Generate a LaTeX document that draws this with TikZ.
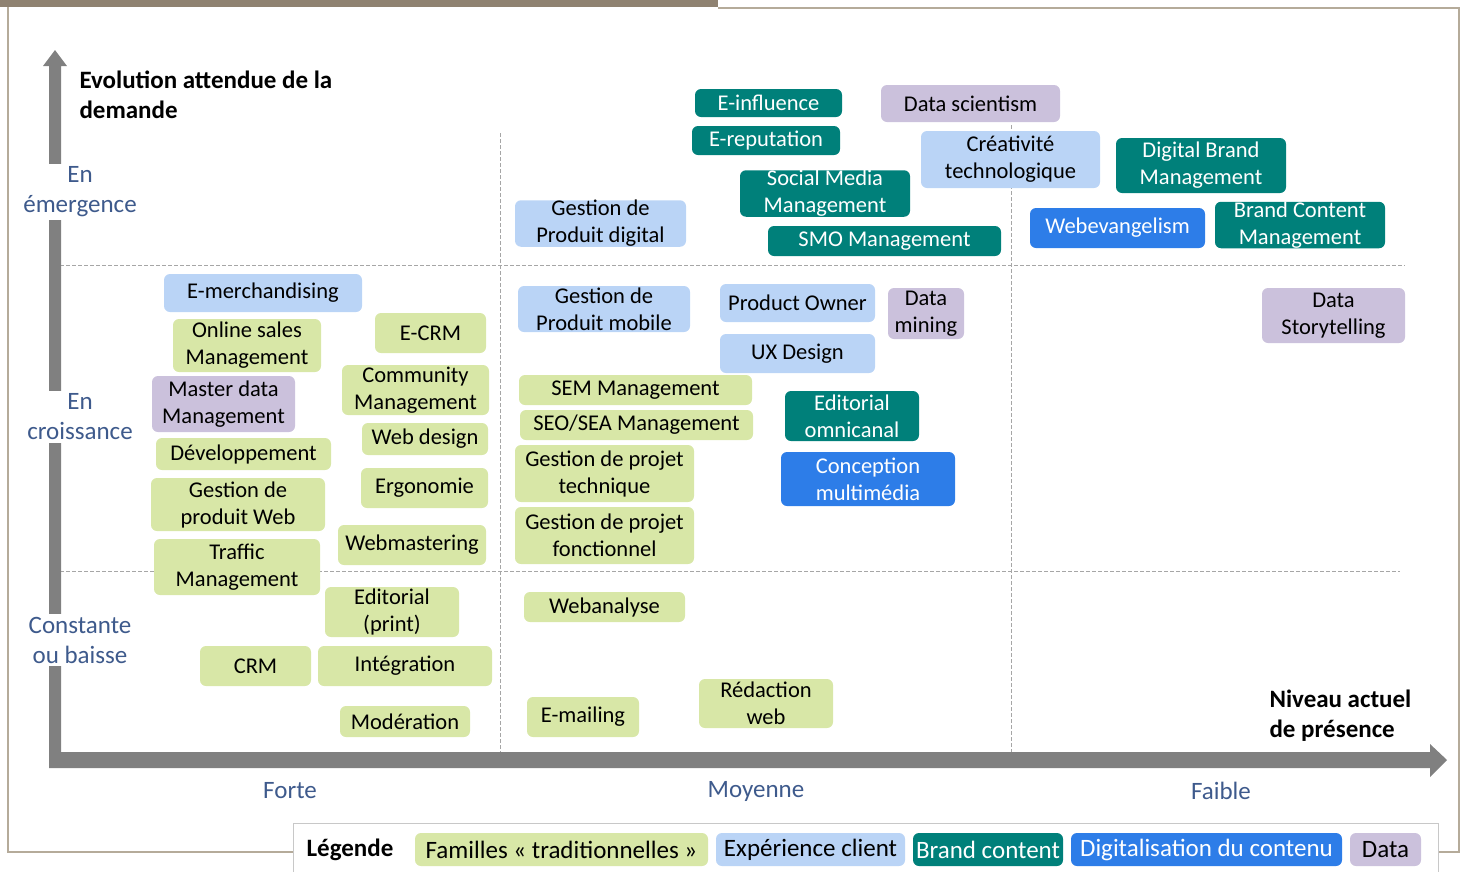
\documentclass[tikz,border=0pt]{standalone}
\usepackage{fontspec}
\setmainfont{Carlito}
\usepackage{tikz}
\definecolor{tradgreen}{HTML}{D8E7A7}
\definecolor{cxblue}{HTML}{BAD4F6}
\definecolor{brandteal}{HTML}{00807A}
\definecolor{digitblue}{HTML}{2D7DE8}
\definecolor{datalav}{HTML}{CBC1DC}
\definecolor{axisgray}{HTML}{808080}
\definecolor{gridgray}{HTML}{A6A6A6}
\definecolor{labelblue}{HTML}{3E5A8C}
\definecolor{framecol}{HTML}{B5AB9A}
\definecolor{bandcol}{HTML}{8F8271}
\definecolor{legendline}{HTML}{C8C8C8}

\begin{document}
\begin{tikzpicture}[x=1pt, y=-1pt,
  skill/.style={rectangle, rounded corners=6pt, inner sep=0pt, align=center, font=\fontsize{22.5}{27}\selectfont},
  famtrad/.style={skill, fill=tradgreen, text=black},
  expclient/.style={skill, fill=cxblue, text=black},
  brandct/.style={skill, fill=brandteal, text=white},
  digcont/.style={skill, fill=digitblue, text=white},
  databox/.style={skill, fill=datalav, text=black},
  sz/.style 2 args={minimum width=#1, minimum height=#2},
  level/.style={fill=white, inner sep=3pt, align=center, text=labelblue, font=\fontsize{25}{30}\selectfont},
  axistitle/.style={align=left, anchor=west, font=\fontsize{25}{30}\selectfont\bfseries},
  grid/.style={gridgray, line width=1pt, dash pattern=on 4pt off 2pt}
]
\useasboundingbox (0,0) rectangle (1467,871);

% frame
\fill[bandcol] (0,0) rectangle (718,7);
\draw[framecol, line width=1.2pt] (718,8) -- (1459,8) -- (1459,852) -- (8,852) -- (8,7);

% grid
\draw[grid] (60,265) -- (1405,265);
\draw[grid] (60,571) -- (1400,571);
\draw[grid] (500,133) -- (500,752);
\draw[grid] (1011,125) -- (1011,752);

% axes
\fill[axisgray] (49,768) -- (49,66) -- (43,66) -- (55,50) -- (67,66) -- (61,66) -- (61,752)
  -- (1430,752) -- (1430,744) -- (1447,760) -- (1430,777) -- (1430,768) -- cycle;

\node[level] (emerg) at (80,192) {En\\émergence};
\node[level] (croiss) at (80,417) {En\\croissance};
\node[level] (const) at (80,640) {Constante\\ou baisse};
\node[level, fill=none] (forte) at (290,791) {Forte};
\node[level, fill=none] (moyenne) at (756,791) {Moyenne};
\node[level, fill=none] (faible) at (1221,791) {Faible};
\node[axistitle] (demande) at (76,95) {Evolution attendue de la\\demande};
\node[axistitle] (presence) at (1266,716) {Niveau actuel\\de présence};

% en emergence
\node[brandct, sz={147}{28}] (einfl) at (768.5,103) {E-influence};
\node[brandct, sz={148}{29}] (erep) at (766,140.5) {E-reputation};
\node[databox, sz={179}{37}] (datasci) at (970.5,103.5) {Data scientism};
\node[expclient, sz={179}{57}] (creat) at (1010.5,159.5) {Créativité\\technologique};
\node[brandct, sz={170}{55}] (dbm) at (1201,165.5) {Digital Brand\\Management};
\node[brandct, sz={170}{45}] (smm) at (825,193.5) {Social Media\\Management};
\node[expclient, sz={171}{45}] (gpd) at (600.5,223.5) {Gestion de\\Produit digital};
\node[brandct, sz={233}{30}] (smo) at (884.5,241) {SMO Management};
\node[digcont, sz={175}{40}] (webev) at (1117.5,228) {Webevangelism};
\node[brandct, sz={170}{46}] (bcm) at (1300,225) {Brand Content\\Management};

% en croissance
\node[expclient, sz={198}{38}] (emerch) at (263,293) {E-merchandising};
\node[famtrad, sz={148}{53}] (osm) at (247,345.5) {Online sales\\Management};
\node[famtrad, sz={111}{40}] (ecrm) at (430.5,333) {E-CRM};
\node[databox, sz={143}{56}] (mdm) at (223.5,404) {Master data\\Management};
\node[famtrad, sz={147}{50}] (comm) at (415.5,390) {Community\\Management};
\node[famtrad, sz={126}{32}] (webdes) at (425,439) {Web design};
\node[famtrad, sz={175}{32}] (dev) at (243.5,454) {Développement};
\node[famtrad, sz={174}{53}] (gpw) at (238,504.5) {Gestion de\\produit Web};
\node[famtrad, sz={127}{40}] (ergo) at (424.5,488) {Ergonomie};
\node[famtrad, sz={148}{40}] (webm) at (412,545) {Webmastering};
\node[famtrad, sz={166}{56}] (traffic) at (237,567) {Traffic\\Management};
\node[expclient, sz={172}{46}] (gpm) at (604,309) {Gestion de\\Produit mobile};
\node[expclient, sz={155}{38}] (po) at (797.5,303) {Product Owner};
\node[databox, sz={76}{51}] (dmining) at (926,313.5) {Data\\mining};
\node[expclient, sz={155}{39}] (ux) at (797.5,353.5) {UX Design};
\node[famtrad, sz={233}{30}] (sem) at (635.5,390) {SEM Management};
\node[famtrad, sz={233}{30}] (seo) at (636.5,425) {SEO/SEA Management};
\node[famtrad, sz={179}{57}] (gpt) at (604.5,473.5) {Gestion de projet\\technique};
\node[famtrad, sz={179}{57}] (gpf) at (604.5,535.5) {Gestion de projet\\fonctionnel};
\node[brandct, sz={134}{50}] (edomni) at (852,416) {Editorial\\omnicanal};
\node[digcont, sz={174}{54}] (concep) at (868,479) {Conception\\multimédia};
\node[databox, sz={143}{55}] (dstory) at (1333.5,315.5) {Data\\Storytelling};

% constante ou baisse
\node[famtrad, sz={134}{50}] (edprint) at (392,612) {Editorial\\(print)};
\node[famtrad, sz={111}{40}] (crm) at (255.5,666) {CRM};
\node[famtrad, sz={174}{40}] (integ) at (405,666) {Intégration};
\node[famtrad, sz={130}{31}] (moder) at (405,721.5) {Modération};
\node[famtrad, sz={161}{30}] (webana) at (604.5,607) {Webanalyse};
\node[famtrad, sz={112}{40}] (emailing) at (583,717) {E-mailing};
\node[famtrad, sz={134}{49}] (redweb) at (766,703.5) {Rédaction\\web};

% legende
\node[rectangle, draw=legendline, fill=white, line width=1pt, minimum width=1145, minimum height=57] (legframe) at (865.5,851.5) {};
\node[font=\fontsize{25}{30}\selectfont\bfseries] (legende) at (350,850) {Légende};
\node[famtrad, sz={293}{33}, font=\fontsize{25}{30}\selectfont] (legtrad) at (561.5,849.5) {Familles « traditionnelles »};
\node[expclient, sz={189}{33}, font=\fontsize{25}{30}\selectfont] (legcx) at (810.5,849.5) {Expérience client};
\node[brandct, sz={150}{33}, font=\fontsize{25}{30}\selectfont] (legbrand) at (988,849.5) {Brand content};
\node[digcont, sz={271}{33}, font=\fontsize{25}{30}\selectfont] (legdig) at (1206.5,849.5) {Digitalisation du contenu};
\node[databox, sz={71}{33}, font=\fontsize{25}{30}\selectfont] (legdata) at (1385.5,849.5) {Data};
\end{tikzpicture}
\end{document}
